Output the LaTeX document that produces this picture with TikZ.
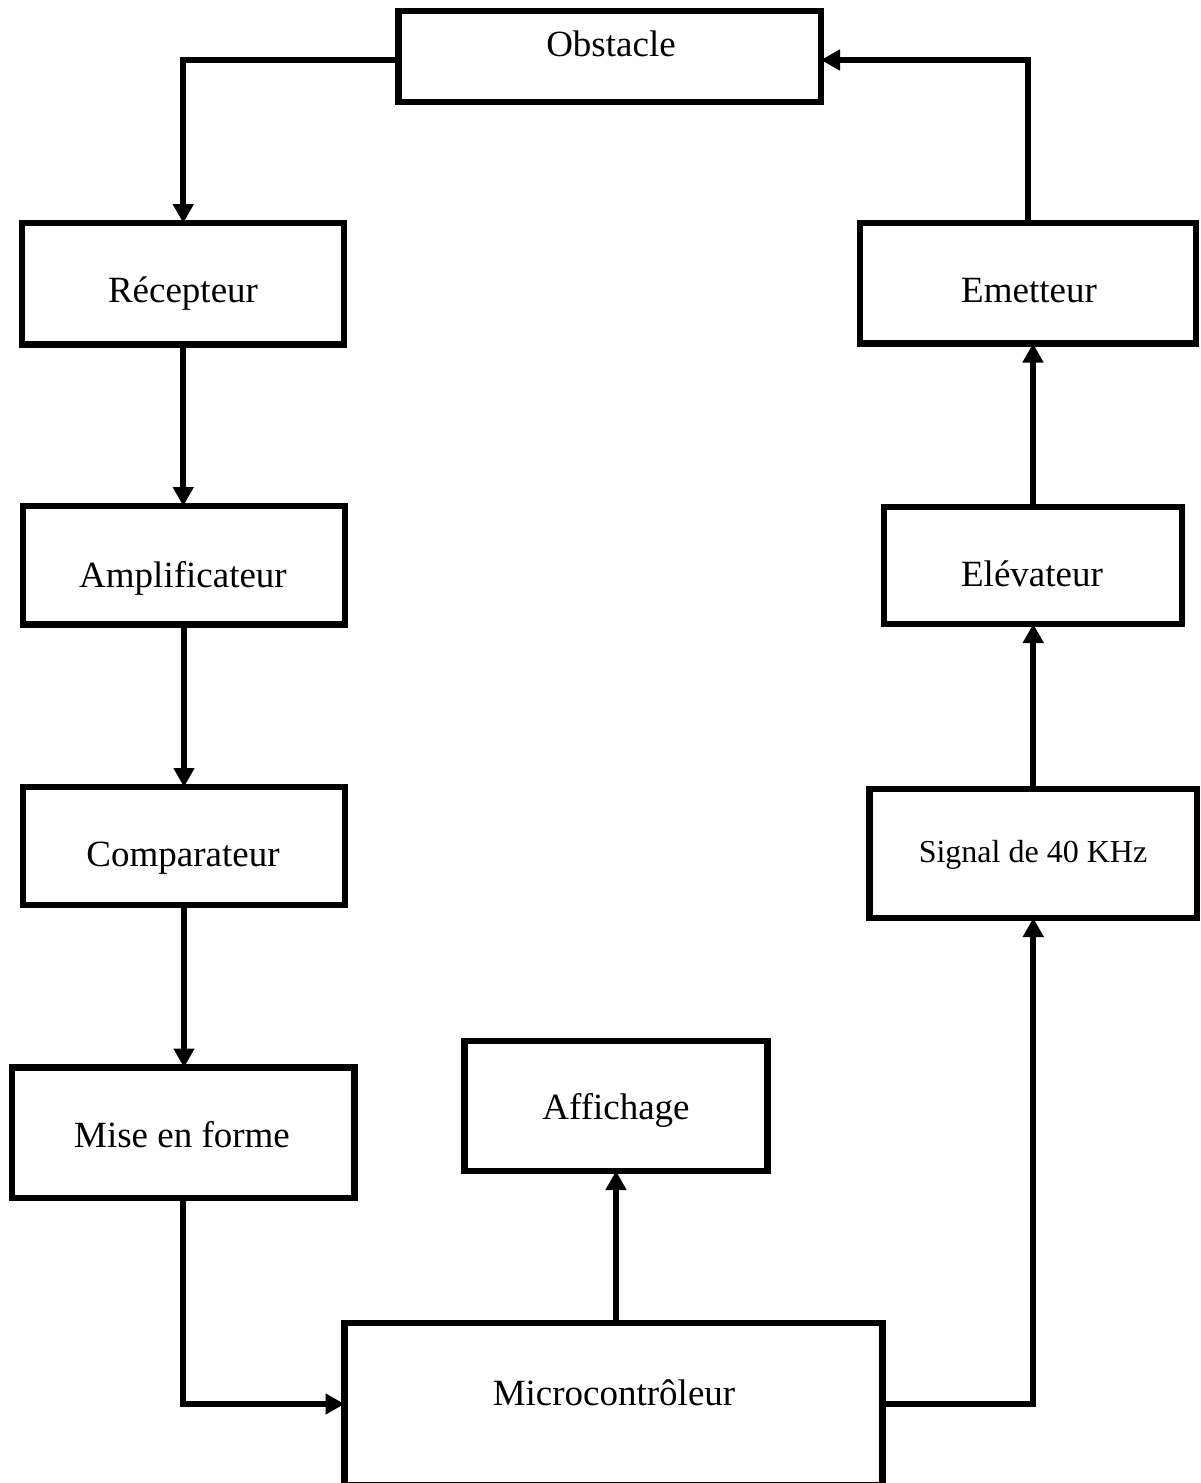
\documentclass[tikz,border=0pt]{standalone}
\usepackage{fontspec}
\setmainfont{Liberation Serif}
\usetikzlibrary{arrows.meta}
\begin{document}
\begin{tikzpicture}[x=1pt,y=-1pt,
  blk/.style={draw=black, line width=6.2pt, fill=white, inner sep=0pt, outer sep=0pt, rectangle},
  lbl/.style={anchor=base, inner sep=0pt, font=\fontsize{37}{44}\selectfont},
  lbls/.style={anchor=base, inner sep=0pt, font=\fontsize{32}{38}\selectfont},
  arr/.style={draw=black, line width=6pt, -{Triangle[length=19pt,width=20pt]}},
  ln/.style={draw=black, line width=6pt}]
\useasboundingbox (0,0) rectangle (1200,1483);
\fill[white] (0,0) rectangle (1200,1483);
% boxes (center lines)
\node[blk, minimum width=422.5pt, minimum height=91pt]  (obst)  at (609.75,56.5) {};
\node[blk, minimum width=322pt,   minimum height=121.5pt] (rec) at (183.25,283.75) {};
\node[blk, minimum width=336pt,   minimum height=120.5pt] (emet) at (1028,283.25) {};
\node[blk, minimum width=322pt,   minimum height=118.5pt] (amp) at (184,565.25) {};
\node[blk, minimum width=298pt,   minimum height=117pt]   (elev) at (1033,565.5) {};
\node[blk, minimum width=322pt,   minimum height=118pt]   (comp) at (184,846) {};
\node[blk, minimum width=327.5pt, minimum height=129pt]   (sig) at (1033.25,853.5) {};
\node[blk, minimum width=342.5pt, minimum height=130.5pt] (mise) at (183.25,1132.75) {};
\node[blk, minimum width=303pt,   minimum height=130pt]   (aff) at (616,1106) {};
\node[blk, minimum width=538pt,   minimum height=162pt]   (micro) at (613.5,1404) {};
% labels
\node[lbl]  (tObst)  at (611,56)   {Obstacle};
\node[lbl]  (tRec)   at (183,302)  {Récepteur};
\node[lbl]  (tEmet)  at (1029,302) {Emetteur};
\node[lbl]  (tAmp)   at (183,587)  {Amplificateur};
\node[lbl]  (tElev)  at (1032,586) {Elévateur};
\node[lbl]  (tComp)  at (183,866)  {Comparateur};
\node[lbls] (tSig)   at (1033,862) {Signal de 40 KHz};
\node[lbl]  (tMise)  at (182,1147) {Mise en forme};
\node[lbl]  (tAff)   at (616,1119) {Affichage};
\node[lbl]  (tMicro) at (614,1405) {Microcontrôleur};
% connectors
\draw[arr] ([yshift=-3.5pt]obst.west) -| (rec.north);
\draw[arr] (rec.south) -- (rec.south |- amp.north);
\draw[arr] (amp.south) -- (comp.north);
\draw[arr] (comp.south) -- (comp.south |- mise.north);
\draw[arr] (mise.south) |- (micro.west);
\draw[arr] (aff.south |- micro.north) -- (aff.south);
\draw[arr] (micro.east) -| (sig.south);
\draw[arr] (sig.north) -- (sig.north |- elev.south);
\draw[arr] (elev.north) -- (elev.north |- emet.south);
\draw[arr] (emet.north) |- ([yshift=-3.5pt]obst.east);
\end{tikzpicture}
\end{document}
